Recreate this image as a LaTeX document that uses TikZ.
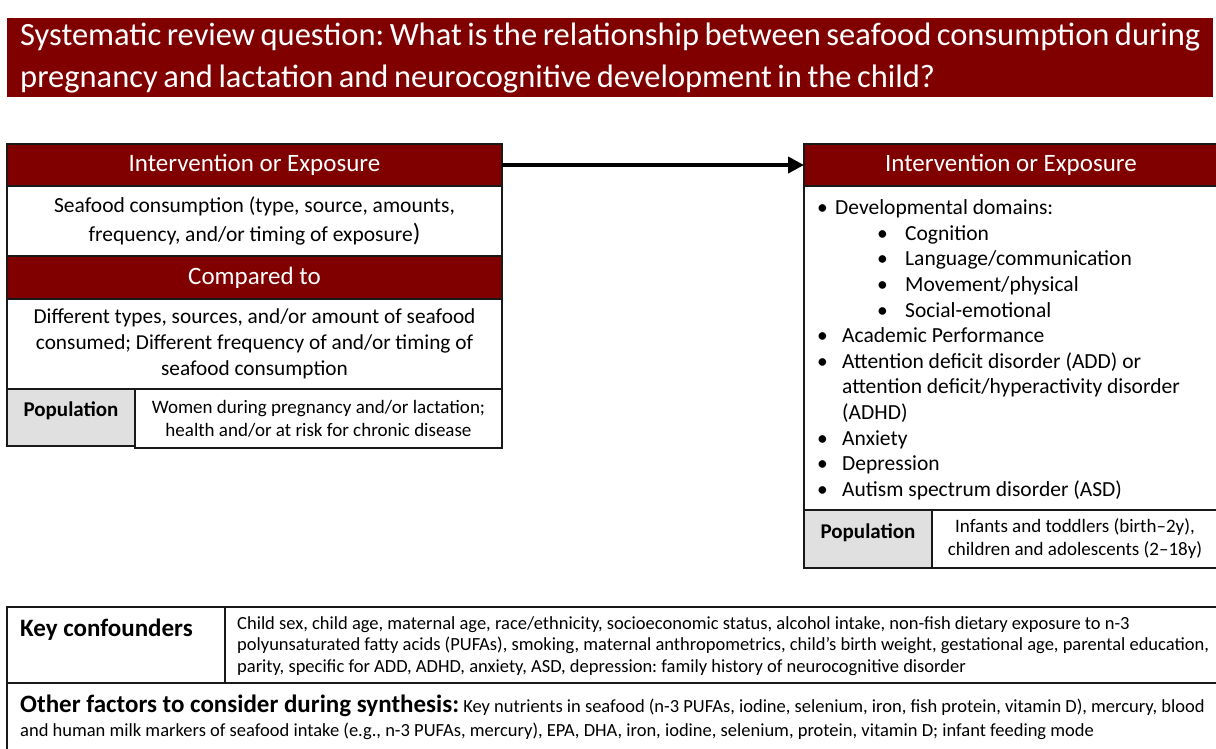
\documentclass[tikz,border=0pt]{standalone}
\usepackage{fontspec}
\setmainfont{Carlito}
\newfontfamily\bannerfont[WordSpace=0.75]{Carlito}
\usetikzlibrary{arrows.meta}
\definecolor{maroon}{RGB}{128,0,0}
\definecolor{cellgray}{RGB}{224,224,224}
\definecolor{edge}{RGB}{25,25,25}
\frenchspacing
% bullet list helpers for the outcome panel
\newcommand\outtop[1]{\makebox[25pt][l]{•}#1}
\newcommand\outfirst[1]{\makebox[18pt][l]{•}#1}
\newcommand\outsub[1]{\hspace*{60pt}\makebox[28pt][l]{•}#1}
\newcommand\outcont[1]{\hspace*{25pt}#1}
\begin{document}
\begin{tikzpicture}[x=1pt,y=-1pt,
  cell/.style={draw=edge, line width=1.6pt, anchor=north west, inner sep=0pt, outer sep=0pt},
  whitecell/.style={cell, fill=white, align=center, font=\fontsize{21.3}{26}\selectfont},
  header/.style={cell, fill=maroon, text=white, font=\fontsize{25}{28}\selectfont},
  graycell/.style={cell, fill=cellgray},
  poptext/.style={font=\bfseries\fontsize{21}{25}\selectfont, anchor=north, inner sep=0pt},
  smalltext/.style={align=center, font=\fontsize{19}{23}\selectfont, inner sep=0pt},
  note/.style={align=left, inner sep=0pt, font=\fontsize{18.5}{21.5}\selectfont},
  flow/.style={line width=4pt, draw=black, -{Triangle[length=16pt,width=16pt]}}
]
\useasboundingbox (0,0) rectangle (1216,748);

% question banner
\node[fill=maroon, text=white, anchor=north west, minimum width=1206pt, minimum height=79pt,
      text width=1200pt, inner xsep=3pt, inner ysep=0pt, align=flush left,
      font=\bannerfont\fontsize{32.5}{42}\selectfont] (title) at (7,18)
  {\hspace*{10pt}Systematic review question: What is the relationship between seafood consumption during\\
   \hspace*{10pt}pregnancy and lactation and neurocognitive development in the child?};

% exposure side
\node[header, minimum width=495pt, minimum height=42pt] (h1) at (7,144) {Intervention or Exposure};
\node[whitecell, minimum width=495pt, minimum height=70pt, font=\fontsize{21.5}{29}\selectfont] (s1) at (7,186)
  {Seafood consumption (type, source, amounts,\\ frequency, and/or timing of exposure{\fontsize{25}{29}\selectfont)}};
\node[header, minimum width=495pt, minimum height=43pt] (c1) at (7,256) {Compared to};
\node[whitecell, minimum width=495pt, minimum height=90pt] (d1) at (7,299)
  {Different types, sources, and/or amount of seafood\\ consumed; Different frequency of and/or timing of\\ seafood consumption};
\node[graycell, minimum width=128pt, minimum height=57pt] (p1) at (7,389) {};
\node[cell, fill=white, minimum width=367pt, minimum height=59pt] (p1v) at (135,389) {};
\node[poptext] (p1t) at ([yshift=-13pt]p1.north) {Population};
\node[smalltext] (p1vt) at (p1v.center) {Women during pregnancy and/or lactation;\\ health and/or at risk for chronic disease};

% outcome side
\node[header, minimum width=414pt, minimum height=42pt] (h2) at (804,144) {Intervention or Exposure};
\node[cell, fill=white, minimum width=414pt, minimum height=324pt] (b2) at (804,186) {};
\node[anchor=north west, inner sep=0pt, align=left, font=\fontsize{21.5}{25.6}\selectfont] (list) at (817,199.5)
  {\outfirst{Developmental domains:}\\
   \outsub{Cognition}\\
   \outsub{Language/communication}\\
   \outsub{Movement/physical}\\
   \outsub{Social-emotional}\\
   \outtop{Academic Performance}\\
   \outtop{Attention deficit disorder (ADD) or}\\
   \outcont{attention deficit/hyperactivity disorder}\\
   \outcont{(ADHD)}\\
   \outtop{Anxiety}\\
   \outtop{Depression}\\
   \outtop{Autism spectrum disorder (ASD)}};
\node[graycell, minimum width=128pt, minimum height=58pt] (p2) at (804,510) {};
\node[cell, fill=white, minimum width=286pt, minimum height=58pt] (p2v) at (932,510) {};
\node[poptext] (p2t) at ([yshift=-14pt]p2.north) {Population};
\node[smalltext] (p2vt) at (p2v.center) {Infants and toddlers (birth–2y),\\ children and adolescents (2–18y)};

\draw[flow] (h1.east) -- (h2.west);

% confounders and other factors
\node[cell, minimum width=218pt, minimum height=76pt] (kc) at (7,607) {};
\node[cell, minimum width=1000pt, minimum height=76pt] (kv) at (225,607) {};
\node[cell, minimum width=1215pt, minimum height=90pt] (of) at (7,683) {};
\node[anchor=north west, inner sep=0pt, font=\bfseries\fontsize{25}{28}\selectfont] (kct) at ([xshift=13pt,yshift=-12pt]kc.north west) {Key confounders};
\node[note, anchor=west] (kvt) at ([xshift=12pt,yshift=-1pt]kv.west)
  {Child sex, child age, maternal age, race/ethnicity, socioeconomic status, alcohol intake, non-fish dietary exposure to n-3\\
   polyunsaturated fatty acids (PUFAs), smoking, maternal anthropometrics, child’s birth weight, gestational age, parental education,\\
   parity, specific for ADD, ADHD, anxiety, ASD, depression: family history of neurocognitive disorder};
\node[note, anchor=north west, font=\fontsize{18.5}{23.5}\selectfont] (oft) at ([xshift=13pt,yshift=-12pt]of.north west)
  {{\bfseries\fontsize{25}{28}\selectfont Other factors to consider during synthesis:} Key nutrients in seafood (n-3 PUFAs, iodine, selenium, iron, fish protein, vitamin D), mercury, blood\\
   and human milk markers of seafood intake (e.g., n-3 PUFAs, mercury), EPA, DHA, iron, iodine, selenium, protein, vitamin D; infant feeding mode};
\end{tikzpicture}
\end{document}
